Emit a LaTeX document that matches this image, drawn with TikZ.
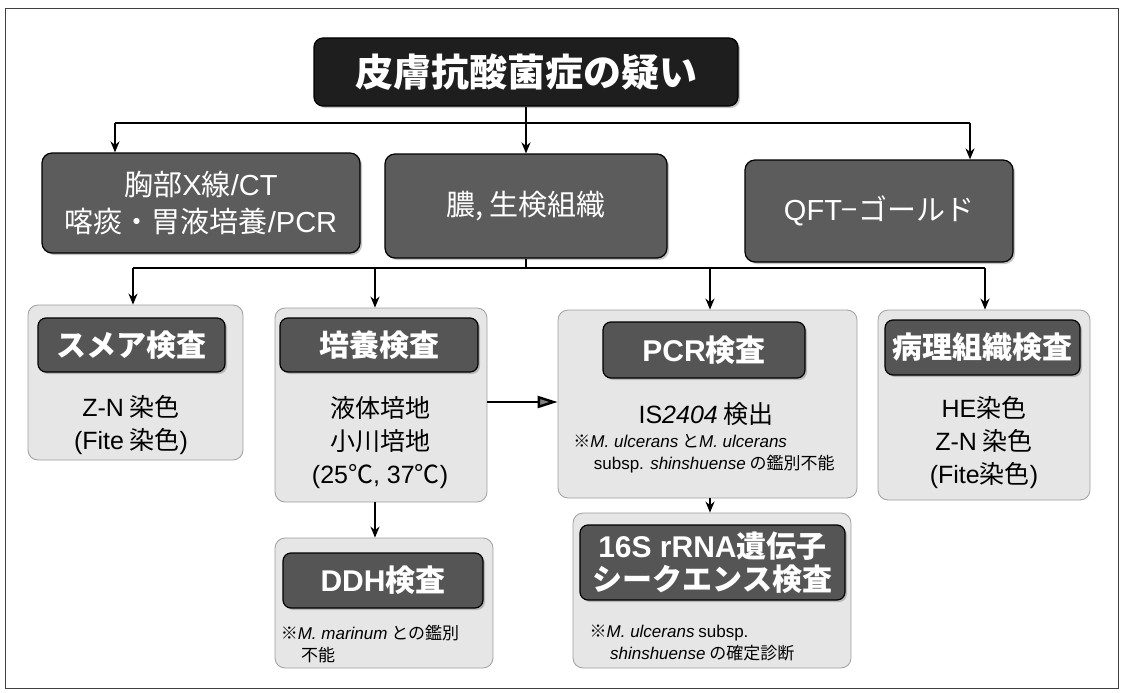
\documentclass[tikz,border=0pt]{standalone}
\usepackage{fontspec}
\setmainfont{Noto Sans CJK JP}
\newfontfamily\lat{Liberation Sans}
\usetikzlibrary{shadows,arrows.meta}
\newcommand\fsz[2]{\fontsize{#1}{#2}\selectfont}
\definecolor{titlefill}{HTML}{1E1E1E}
\definecolor{midfill}{HTML}{5C5C5C}
\definecolor{headfill}{HTML}{555555}
\definecolor{lightfill}{HTML}{E6E6E6}
\begin{document}
\begin{tikzpicture}[x=1pt,y=-1pt,
  titlebox/.style={draw=black, line width=1.2pt, rounded corners=9pt, fill=titlefill, text=white,
    font=\fsz{38}{42}\bfseries, drop shadow={shadow xshift=2pt,shadow yshift=-2pt,opacity=.45}},
  midbox/.style={draw=black, line width=1.2pt, rounded corners=10pt, fill=midfill, text=white,
    font=\fsz{29}{37}, align=center, drop shadow={shadow xshift=2pt,shadow yshift=-2pt,opacity=.45}},
  lightbox/.style={draw=gray!75, line width=0.8pt, rounded corners=10pt, fill=lightfill},
  headbox/.style={draw=black, line width=1.2pt, rounded corners=8pt, fill=headfill, text=white,
    font=\fsz{30}{34}\bfseries, align=center, drop shadow={shadow xshift=2pt,shadow yshift=-2pt,opacity=.45}},
  body/.style={font=\fsz{25}{33}, align=center, text=black},
  note/.style={font=\fsz{17}{22}, align=left, text=black},
  conn/.style={line width=2.4pt, black},
  arr/.style={conn, -{Stealth[length=11pt,width=9pt]}}
]
\useasboundingbox (0,0) rectangle (1124,693);
\draw[black!75, line width=1pt] (5,9) rectangle (1118,688);

% title and second row
\node[titlebox, minimum width=424pt, minimum height=68pt] (title) at (526,72) {皮膚抗酸菌症の疑い};
\node[midbox, minimum width=318pt, minimum height=100pt] (chest) at (201,203) {胸部{\lat X}線{\lat /CT}\\喀痰・胃液培養{\lat /PCR}};
\node[midbox, minimum width=282pt, minimum height=104pt] (pus) at (526,206) {膿, 生検組織};
\node[midbox, minimum width=268pt, minimum height=102pt] (qft) at (879,211) {{\lat QFT}−ゴールド};

% third row outer boxes
\node[lightbox, minimum width=215pt, minimum height=155pt] (smearO) at (135.5,382.5) {};
\node[lightbox, minimum width=212pt, minimum height=194pt] (cultO) at (381,405) {};
\node[lightbox, minimum width=299pt, minimum height=188pt] (pcrO) at (707.5,404) {};
\node[lightbox, minimum width=212pt, minimum height=190pt] (pathO) at (984,405) {};
\node[lightbox, minimum width=218pt, minimum height=130pt] (ddhO) at (384,603) {};
\node[lightbox, minimum width=278pt, minimum height=155pt] (seqO) at (712,590.5) {};

% heads
\node[headbox, minimum width=187pt, minimum height=54pt] (smearH) at (131.5,345) {スメア検査};
\node[headbox, minimum width=198pt, minimum height=54pt] (cultH) at (379,345) {培養検査};
\node[headbox, minimum width=202pt, minimum height=56pt] (pcrH) at (704,350) {{\lat PCR}検査};
\node[headbox, minimum width=195pt, minimum height=55pt] (pathH) at (982.5,347.5) {病理組織検査};
\node[headbox, minimum width=200pt, minimum height=55pt] (ddhH) at (383,580.5) {{\lat DDH}検査};
\node[headbox, minimum width=265pt, minimum height=75pt, font=\fsz{30}{33}\bfseries] (seqH) at (712.5,562.5) {{\lat 16S rRNA}遺伝子\\シークエンス検査};

% body texts
\node[body] (smearT) at (131,425) {{\lat Z-N} 染色\\{\lat (Fite} 染色{\lat )}};
\node[body] (cultT) at (380,443) {液体培地\\小川培地\\{\lat (25}℃{\lat , 37}℃{\lat )}};
\node[body] (pcrT) at (706,414) {{\lat IS\itshape 2404} 検出};
\node[note] (pcrN) at (704,454) {※{\lat\itshape M. ulcerans} と{\lat\itshape M. ulcerans}\\\hspace*{1.2em}{\lat subsp. \itshape shinshuense} の鑑別不能};
\node[note] (ddhN) at (370,644) {※{\lat\itshape M. marinum} との鑑別\\\hspace*{1.2em}不能};
\node[body] (pathT) at (984,443) {{\lat HE}染色\\{\lat Z-N} 染色\\{\lat (Fite}染色{\lat )}};
\node[note] (seqN) at (692,643) {※{\lat\itshape M. ulcerans} {\lat subsp.}\\\hspace*{1.2em}{\lat\itshape shinshuense} の確定診断};

% connectors level 1
\coordinate (h1L) at (115,123);
\coordinate (h1R) at (970,123);
\draw[conn] (title.south) -- (title.south |- h1L);
\draw[conn] (h1L) -- (h1R);
\draw[arr] (h1L) -- (h1L |- chest.north);
\draw[arr] (title.south |- h1L) -- (pus.north);
\draw[arr] (h1R) -- (h1R |- qft.north);

% connectors level 2
\coordinate (h2L) at (133,268);
\coordinate (h2R) at (985,268);
\coordinate (h2a) at (375,268);
\coordinate (h2b) at (710,268);
\draw[conn] (pus.south) -- (pus.south |- h2L);
\draw[conn] (h2L) -- (h2R);
\draw[arr] (h2L) -- (h2L |- smearO.north);
\draw[arr] (h2a) -- (h2a |- cultO.north);
\draw[arr] (h2b) -- (h2b |- pcrO.north);
\draw[arr] (h2R) -- (h2R |- pathO.north);

% further connectors
\draw[conn, -{Triangle[length=20pt,width=12pt,fill=gray]}] (cultO.east |- 0,402) -- (pcrO.west |- 0,402);
\draw[arr] (cultO.south -| h2a) -- (ddhO.north -| h2a);
\draw[arr] (pcrO.south -| h2b) -- (seqO.north -| h2b);
\end{tikzpicture}
\end{document}
